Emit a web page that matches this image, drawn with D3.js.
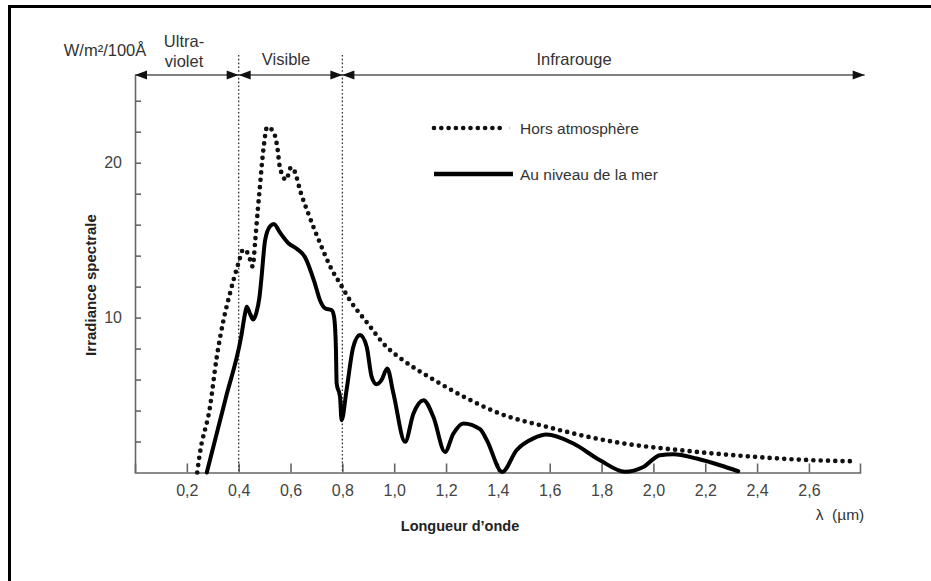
<!DOCTYPE html>
<html>
<head>
<meta charset="utf-8">
<script src="https://cdn.jsdelivr.net/npm/d3@7"></script>
<style>
  html, body { margin: 0; padding: 0; background: #fff; }
  svg { display: block; }
  text { font-family: "Liberation Sans", Arial, sans-serif; }
</style>
</head>
<body>
<svg id="chart" width="931" height="581"></svg>
<script>
// ---------- DATA ----------
const xTicks = [0.2, 0.4, 0.6, 0.8, 1.0, 1.2, 1.4, 1.6, 1.8, 2.0, 2.2, 2.4, 2.6];
const yTicks = [2, 4, 6, 8, 10, 12, 14, 16, 18, 20, 22, 24];
const yLabelled = [10, 20];

// Hors atmosphère (dotted)
const horsX = [0.24, 0.25, 0.289, 0.315, 0.341, 0.367, 0.399, 0.418, 0.437, 0.454, 0.464, 0.474, 0.48, 0.495, 0.51, 0.534, 0.549, 0.559, 0.583, 0.602, 0.617, 0.637, 0.669, 0.714, 0.759, 0.791, 0.83, 0.894, 0.971, 1.022, 1.151, 1.279, 1.408, 1.588, 1.846, 2.103, 2.36, 2.617, 2.76];
const horsY = [0, 1.2, 4.2, 7.4, 9.8, 11.6, 13.5, 14.4, 14.1, 13.3, 15.0, 17.0, 18.1, 20.8, 22.3, 22.0, 21.0, 19.7, 18.9, 19.7, 19.4, 18.2, 16.7, 14.8, 13.1, 12.2, 11.1, 9.7, 8.1, 7.4, 6.0, 4.8, 3.8, 2.95, 1.98, 1.44, 1.05, 0.79, 0.73];

// Au niveau de la mer (solid)
const merX = [0.277, 0.35, 0.41, 0.425, 0.431, 0.445, 0.456, 0.468, 0.48, 0.487, 0.502, 0.521, 0.536, 0.559, 0.592, 0.624, 0.656, 0.694, 0.714, 0.733, 0.759, 0.768, 0.775, 0.778, 0.791, 0.797, 0.816, 0.842, 0.868, 0.894, 0.913, 0.932, 0.951, 0.973, 0.997, 1.042, 1.074, 1.113, 1.151, 1.196, 1.228, 1.267, 1.331, 1.357, 1.417, 1.472, 1.537, 1.588, 1.691, 1.794, 1.89, 1.961, 2.025, 2.077, 2.167, 2.257, 2.327];
const merY = [0, 4.8, 8.8, 10.3, 10.7, 10.2, 9.88, 10.3, 11.3, 12.4, 15.0, 15.9, 16.05, 15.5, 14.8, 14.45, 13.9, 12.2, 11.1, 10.6, 10.48, 10.05, 8.1, 5.75, 4.88, 3.38, 5.3, 8.1, 8.87, 8.1, 6.18, 5.7, 5.96, 6.72, 5.1, 1.98, 3.8, 4.67, 3.6, 1.33, 2.5, 3.17, 2.8, 2.1, 0.04, 1.44, 2.2, 2.45, 1.87, 0.79, 0.05, 0.36, 1.12, 1.18, 0.9, 0.47, 0.08];

const regionBounds = [0, 0.4, 0.8, 2.815];
const regionNames = [["Ultra-", "violet"], ["Visible"], ["Infrarouge"]];
const seriesNames = ["Hors atmosphère", "Au niveau de la mer"];

// ---------- SCALES ----------
const svg = d3.select("#chart");
const x = d3.scaleLinear().domain([0, 2.797]).range([135, 860]);
const y = d3.scaleLinear().domain([0, 20]).range([472.5, 162.7]);
const yTopVal = y.invert(75);

// frame (top + left edges)
svg.append("line").attr("x1", 9.5).attr("x2", 931).attr("y1", 6.5).attr("y2", 6.5)
  .attr("stroke", "#000").attr("stroke-width", 3);
svg.append("line").attr("x1", 9.5).attr("x2", 9.5).attr("y1", 5).attr("y2", 581)
  .attr("stroke", "#000").attr("stroke-width", 3);

// ---------- AXES ----------
const fmt = d => d3.format(".1f")(d).replace(".", ",");
const xAxis = svg.append("g").attr("transform", `translate(0,${y(0)})`)
  .call(d3.axisBottom(x).tickValues(xTicks).tickSize(-9).tickSizeOuter(-9).tickPadding(12).tickFormat(fmt));
const yAxisScale = d3.scaleLinear().domain([0, yTopVal]).range([y(0), 75]);
const yAxis = svg.append("g").attr("transform", `translate(${x(0)},0)`)
  .call(d3.axisLeft(yAxisScale).tickValues(yTicks).tickSize(-6).tickSizeOuter(0).tickPadding(13)
    .tickFormat(d => yLabelled.includes(d) ? d : ""));
[xAxis, yAxis].forEach(g => {
  g.selectAll("path, line").attr("stroke", "#666").attr("stroke-width", 1.6);
  g.selectAll("text").attr("fill", "#444").style("font-size", "16px")
    .style("font-family", "'Liberation Sans', Arial, sans-serif");
});

// ---------- REGION ARROWS ----------
const arrowY = 75;
svg.append("line").attr("x1", x(regionBounds[0])).attr("x2", x(regionBounds[3]))
  .attr("y1", arrowY).attr("y2", arrowY).attr("stroke", "#555").attr("stroke-width", 1.5);
function head(tipX, dir) {
  const L = 12, H = 4.5;
  svg.append("path")
    .attr("d", `M${tipX},${arrowY} L${tipX - dir * L},${arrowY - H} L${tipX - dir * L},${arrowY + H} Z`)
    .attr("fill", "#111");
}
head(x(regionBounds[0]), -1);
head(x(regionBounds[1]), 1); head(x(regionBounds[1]), -1);
head(x(regionBounds[2]), 1); head(x(regionBounds[2]), -1);
head(x(regionBounds[3]), 1);

// vertical dotted boundaries
[regionBounds[1], regionBounds[2]].forEach(b => {
  svg.append("line").attr("x1", x(b)).attr("x2", x(b)).attr("y1", 55).attr("y2", y(0))
    .attr("stroke", "#333").attr("stroke-width", 1.3).attr("stroke-dasharray", "1.6 2.2");
});

// region labels
const hdr = svg.append("g").attr("fill", "#333").style("font-size", "16.5px");
hdr.append("text").attr("x", 105).attr("y", 56).attr("text-anchor", "middle").text("W/m²/100Å");
hdr.append("text").attr("x", 184).attr("y", 47).attr("text-anchor", "middle").text(regionNames[0][0]);
hdr.append("text").attr("x", 184).attr("y", 67).attr("text-anchor", "middle").text(regionNames[0][1]);
hdr.append("text").attr("x", 286).attr("y", 65).attr("text-anchor", "middle").text(regionNames[1][0]);
hdr.append("text").attr("x", 574).attr("y", 65).attr("text-anchor", "middle").text(regionNames[2][0]);

// ---------- CURVES ----------
const line = d3.line().x(d => x(d[0])).y(d => y(d[1])).curve(d3.curveMonotoneX);
const hors = horsX.map((v, i) => [v, horsY[i]]);
const mer = merX.map((v, i) => [v, merY[i]]);

svg.append("path").attr("d", line(hors)).attr("fill", "none").attr("stroke", "#111")
  .attr("stroke-width", 4.7).attr("stroke-linecap", "round").attr("stroke-dasharray", "0 7.3");
svg.append("path").attr("d", line(mer)).attr("fill", "none").attr("stroke", "#000")
  .attr("stroke-width", 4).attr("stroke-linejoin", "round").attr("stroke-linecap", "round");

// ---------- LEGEND ----------
svg.append("line").attr("x1", 434).attr("x2", 507).attr("y1", 128).attr("y2", 128)
  .attr("stroke", "#111").attr("stroke-width", 4.7).attr("stroke-linecap", "round").attr("stroke-dasharray", "0 7.3");
svg.append("line").attr("x1", 434).attr("x2", 513).attr("y1", 174).attr("y2", 174)
  .attr("stroke", "#000").attr("stroke-width", 4.5);
const lg = svg.append("g").attr("fill", "#333").style("font-size", "15.5px");
lg.append("text").attr("x", 520).attr("y", 133.5).text(seriesNames[0]);
lg.append("text").attr("x", 520).attr("y", 179.5).text(seriesNames[1]);

// ---------- AXIS TITLES ----------
svg.append("text").attr("transform", "translate(96,285) rotate(-90)").attr("text-anchor", "middle")
  .attr("fill", "#222").style("font-size", "15px").style("font-weight", "bold").text("Irradiance spectrale");
svg.append("text").attr("x", 460).attr("y", 531).attr("text-anchor", "middle")
  .attr("fill", "#222").style("font-size", "14.5px").style("font-weight", "bold").text("Longueur d’onde");
svg.append("text").attr("x", 840).attr("y", 520).attr("text-anchor", "middle")
  .attr("fill", "#333").style("font-size", "15.5px").text("λ  (µm)").attr("xml:space", "preserve").style("white-space", "pre");
</script>
</body>
</html>
